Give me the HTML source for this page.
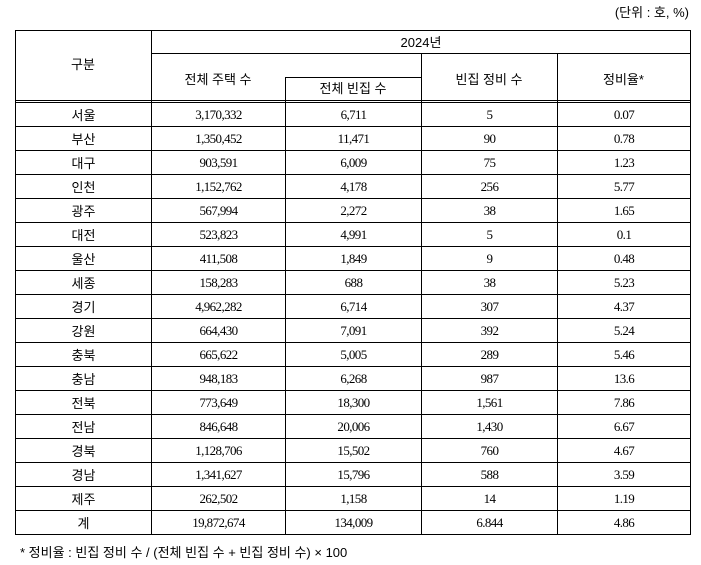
<!DOCTYPE html>
<html><head><meta charset="utf-8"><style>
body{margin:0;width:701px;height:565px;background:#fff;position:relative;font-family:"Liberation Sans","Noto Sans CJK KR",sans-serif;color:#000;overflow:hidden}
.l{position:absolute;background:#000}
.t{position:absolute;text-align:center;font-size:13px;line-height:16px}
table{position:absolute;left:15px;top:102px;border-collapse:collapse;table-layout:fixed}
td{border:1px solid #000;height:23px;padding:0;text-align:center;font-size:13px;font-family:"Liberation Serif","Noto Sans CJK KR",serif;letter-spacing:-0.6px}
td:first-child{font-family:"Liberation Sans","Noto Sans CJK KR",sans-serif;letter-spacing:0}
</style></head><body>
<div class="t" style="right:12px;top:5px;font-size:13px">(단위 : 호, %)</div>
<!-- header lines -->
<div class="l" style="left:15px;top:30px;width:676px;height:1px"></div>
<div class="l" style="left:151px;top:53px;width:540px;height:1px"></div>
<div class="l" style="left:285px;top:77px;width:136px;height:1px"></div>
<div class="l" style="left:15px;top:100px;width:676px;height:1px"></div>
<div class="l" style="left:15px;top:30px;width:1px;height:100px"></div>
<div class="l" style="left:151px;top:30px;width:1px;height:100px"></div>
<div class="l" style="left:285px;top:77px;width:1px;height:30px"></div>
<div class="l" style="left:421px;top:53px;width:1px;height:50px"></div>
<div class="l" style="left:557px;top:53px;width:1px;height:50px"></div>
<div class="l" style="left:690px;top:30px;width:1px;height:100px"></div>
<div class="t" style="left:15px;top:57px;width:136px">구분</div>
<div class="t" style="left:151px;top:35px;width:540px">2024년</div>
<div class="t" style="left:151px;top:72px;width:134px">전체 주택 수</div>
<div class="t" style="left:285px;top:81px;width:136px">전체 빈집 수</div>
<div class="t" style="left:421px;top:72px;width:136px">빈집 정비 수</div>
<div class="t" style="left:557px;top:72px;width:133px">정비율*</div>
<table>
<colgroup><col style="width:136px"><col style="width:134px"><col style="width:136px"><col style="width:136px"><col style="width:133px"></colgroup>
<tr><td>서울</td><td>3,170,332</td><td>6,711</td><td>5</td><td>0.07</td></tr>
<tr><td>부산</td><td>1,350,452</td><td>11,471</td><td>90</td><td>0.78</td></tr>
<tr><td>대구</td><td>903,591</td><td>6,009</td><td>75</td><td>1.23</td></tr>
<tr><td>인천</td><td>1,152,762</td><td>4,178</td><td>256</td><td>5.77</td></tr>
<tr><td>광주</td><td>567,994</td><td>2,272</td><td>38</td><td>1.65</td></tr>
<tr><td>대전</td><td>523,823</td><td>4,991</td><td>5</td><td>0.1</td></tr>
<tr><td>울산</td><td>411,508</td><td>1,849</td><td>9</td><td>0.48</td></tr>
<tr><td>세종</td><td>158,283</td><td>688</td><td>38</td><td>5.23</td></tr>
<tr><td>경기</td><td>4,962,282</td><td>6,714</td><td>307</td><td>4.37</td></tr>
<tr><td>강원</td><td>664,430</td><td>7,091</td><td>392</td><td>5.24</td></tr>
<tr><td>충북</td><td>665,622</td><td>5,005</td><td>289</td><td>5.46</td></tr>
<tr><td>충남</td><td>948,183</td><td>6,268</td><td>987</td><td>13.6</td></tr>
<tr><td>전북</td><td>773,649</td><td>18,300</td><td>1,561</td><td>7.86</td></tr>
<tr><td>전남</td><td>846,648</td><td>20,006</td><td>1,430</td><td>6.67</td></tr>
<tr><td>경북</td><td>1,128,706</td><td>15,502</td><td>760</td><td>4.67</td></tr>
<tr><td>경남</td><td>1,341,627</td><td>15,796</td><td>588</td><td>3.59</td></tr>
<tr><td>제주</td><td>262,502</td><td>1,158</td><td>14</td><td>1.19</td></tr>
<tr><td>계</td><td>19,872,674</td><td>134,009</td><td>6.844</td><td>4.86</td></tr>
</table>
<div class="t" style="left:20px;top:545px;text-align:left;font-size:13px">* 정비율 : 빈집 정비 수 / (전체 빈집 수 + 빈집 정비 수) × 100</div>
</body></html>
